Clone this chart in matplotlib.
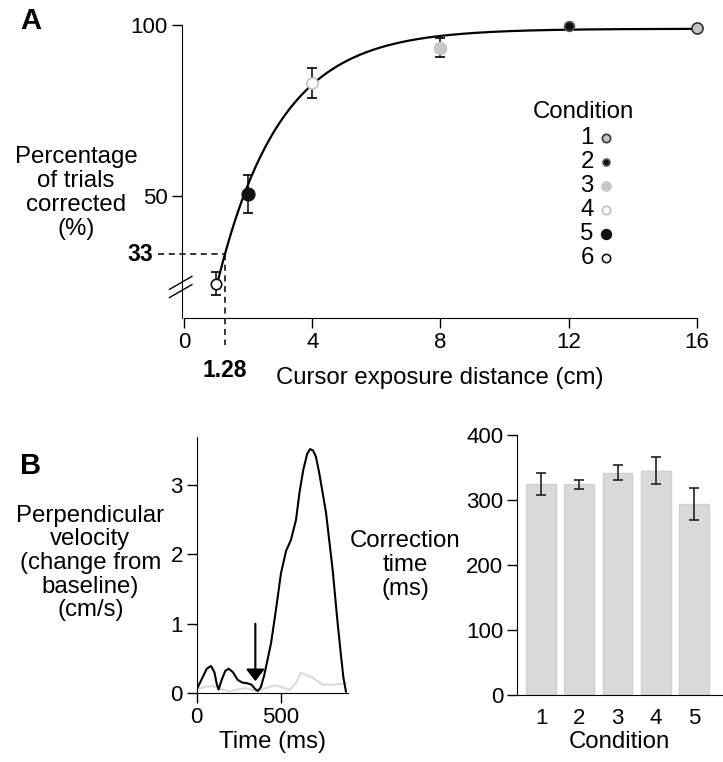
import numpy as np
import matplotlib
matplotlib.use("Agg")
import matplotlib.pyplot as plt

plt.rcParams["font.family"] = ["Liberation Sans", "DejaVu Sans"]
plt.rcParams["font.size"] = 16

# ---- panel A data ----
conditions = ["1", "2", "3", "4", "5", "6"]
distance = [16, 12, 8, 4, 2, 1]
pct_corrected = [99.0, 99.8, 93.4, 83.0, 50.5, 24.4]
pct_err = [0.0, 0.0, 2.9, 4.4, 5.5, 3.4]
# exponential fit shown in the figure: y = top - amp * exp(-rate * x)
fit_top, fit_amp, fit_rate = 98.9, 127.0, 0.513
fit_start, fit_end = 1.08, 16.0
threshold_pct, threshold_dist = 33, 1.28

# marker styles per condition: face, edge, size (A) and size (legend)
m_face = ["#c4c4c4", "#111111", "#c8c8c8", "white", "#111111", "white"]
m_edge = ["#333333", "#555555", "#c8c8c8", "#c0c0c0", "#111111", "#111111"]
m_size = [8.0, 7.0, 8.5, 8.0, 9.0, 7.5]
leg_size = [6.0, 5.0, 6.5, 6.0, 7.0, 6.0]

# ---- panel B velocity traces (ms, cm/s) ----
t_black = [0, 30, 60, 85, 105, 120, 130, 150, 170, 190, 215, 243, 270, 300,
           325, 345, 362, 380, 400, 441, 470, 500, 530, 559, 589, 610, 632,
           655, 672, 690, 707, 727, 767, 806, 836, 856, 870, 885]
v_black = [0.05, 0.2, 0.35, 0.39, 0.3, 0.12, 0.05, 0.2, 0.32, 0.35, 0.3, 0.19,
           0.15, 0.14, 0.12, 0.06, 0.03, 0.08, 0.25, 0.72, 1.2, 1.73, 2.05,
           2.21, 2.5, 2.9, 3.22, 3.45, 3.52, 3.5, 3.41, 3.17, 2.6, 1.78, 1.0,
           0.53, 0.22, 0.02]
t_gray = [0, 50, 95, 140, 194, 240, 292, 330, 362, 420, 470, 510, 549, 590,
          618, 650, 688, 747, 820, 885]
v_gray = [0.05, 0.09, 0.1, 0.06, 0.02, 0.05, 0.07, 0.04, 0.02, 0.08, 0.11,
          0.08, 0.04, 0.15, 0.29, 0.26, 0.22, 0.12, 0.12, 0.14]
arrow_t = 348

# ---- panel B correction times ----
bar_cond = [1, 2, 3, 4, 5]
corr_time = [324, 324, 342, 345, 294]
corr_err = [17, 7.5, 11.5, 20.5, 24.5]

LBL = 17.3

fig = plt.figure(figsize=(7.23, 7.62), dpi=100)

# ================= A =================
axA = fig.add_axes([0.2513, 0.5827, 0.7127, 0.3845])
xs = np.linspace(fit_start, fit_end, 300)
axA.plot(xs, fit_top - fit_amp * np.exp(-fit_rate * xs), color="black", lw=1.6, zorder=2)
for i in range(len(conditions)):
    axA.errorbar(distance[i], pct_corrected[i], yerr=pct_err[i] if pct_err[i] > 0 else None,
                 fmt="o", ms=m_size[i], mfc=m_face[i], mec=m_edge[i], mew=1.2,
                 ecolor="black", elinewidth=1.1, capsize=3.5, capthick=1.1,
                 clip_on=False, zorder=3)
axA.plot([-0.81, threshold_dist], [threshold_pct, threshold_pct], "k--", lw=1.1,
         dashes=(4, 3), clip_on=False)
axA.plot([threshold_dist, threshold_dist], [threshold_pct, 6.5], "k--", lw=1.1,
         dashes=(4, 3), clip_on=False)
axA.text(-0.97, threshold_pct, "33", ha="right", va="center", fontweight="bold", fontsize=16.5)
axA.text(threshold_dist, -0.9, "1.28", ha="center", va="center", fontweight="bold", fontsize=16.5)

axA.set_xlim(-0.07, 16)
axA.set_ylim(14.33, 100)
axA.set_xticks([0, 4, 8, 12, 16])
axA.set_yticks([50, 100])
axA.spines["top"].set_visible(False)
axA.spines["right"].set_visible(False)
axA.spines["bottom"].set_bounds(0, 16)
axA.tick_params(length=7, width=1, pad=3, labelsize=16)
axA.set_xlabel("Cursor exposure distance (cm)", fontsize=LBL, labelpad=10)

# axis break marks
for dy in (-1.2, 1.2):
    axA.plot([-0.45, 0.25], [23.4 + dy - 1.9, 23.4 + dy + 1.9], color="black",
             lw=1.0, clip_on=False)

# legend
axA.text(12.45, 74.6, "Condition", ha="center", va="center", fontsize=LBL)
for i in range(len(conditions)):
    yy = 67.0 - i * 7.0
    axA.text(12.78, yy, conditions[i], ha="right", va="center", fontsize=LBL)
    axA.plot(13.15, yy, "o", ms=leg_size[i], mfc=m_face[i], mec=m_edge[i], mew=1.2)

fig.text(0.105, 1 - 193 / 762, "Percentage\nof trials\ncorrected\n(%)", ha="center",
         va="center", fontsize=LBL, linespacing=1.12)
fig.text(0.028, 0.973, "A", fontsize=21, fontweight="bold", ha="left", va="center")

# ================= B left =================
axB = fig.add_axes([0.272, 0.0906, 0.210, 0.3364])
axB.plot(t_gray, v_gray, color="#dadada", lw=1.5)
axB.plot(t_black, v_black, color="black", lw=1.5)
axB.annotate("", xy=(arrow_t, 0.17), xytext=(arrow_t, 1.0),
             arrowprops=dict(arrowstyle="-|>,head_length=0.45,head_width=0.35",
                             color="black", lw=1.5, mutation_scale=16,
                             shrinkA=0, shrinkB=0))
axB.set_xlim(0, 900)
axB.set_ylim(0, 3.7)
axB.set_xticks([0, 500])
axB.set_yticks([0, 1, 2, 3])
axB.spines["top"].set_visible(False)
axB.spines["right"].set_visible(False)
axB.tick_params(length=7, width=1, pad=3, labelsize=16)
axB.set_xlabel("Time (ms)", fontsize=LBL, labelpad=2)
fig.text(0.125, 1 - 563 / 762,
         "Perpendicular\nvelocity\n(change from\nbaseline)\n(cm/s)",
         ha="center", va="center", fontsize=LBL, linespacing=1.1)
fig.text(0.028, 1 - 466 / 762, "B", fontsize=21, fontweight="bold", ha="left", va="center")

# ================= B right =================
axC = fig.add_axes([0.7151, 0.0879, 0.2835, 0.3412])
axC.bar(bar_cond, corr_time, width=0.78, color="#d9d9d9", edgecolor="#cfcfcf", lw=1)
axC.errorbar(bar_cond, corr_time, yerr=corr_err, fmt="none", ecolor="#222222",
             elinewidth=1.2, capsize=3.5, capthick=1.2)
axC.set_xlim(0.373, 5.73)
axC.set_ylim(0, 400)
axC.set_xticks(bar_cond)
axC.set_yticks([0, 100, 200, 300, 400])
axC.spines["top"].set_visible(False)
axC.spines["right"].set_visible(False)
axC.tick_params(axis="y", length=7, width=1, pad=3, labelsize=16)
axC.tick_params(axis="x", length=0, pad=9, labelsize=16)
axC.set_xlabel("Condition", fontsize=LBL, labelpad=2)
fig.text(1 - (723 - 405) / 723, 1 - 565 / 762, "Correction\ntime\n(ms)",
         ha="center", va="center", fontsize=LBL, linespacing=1.1)

fig.savefig("out.png", dpi=100)
